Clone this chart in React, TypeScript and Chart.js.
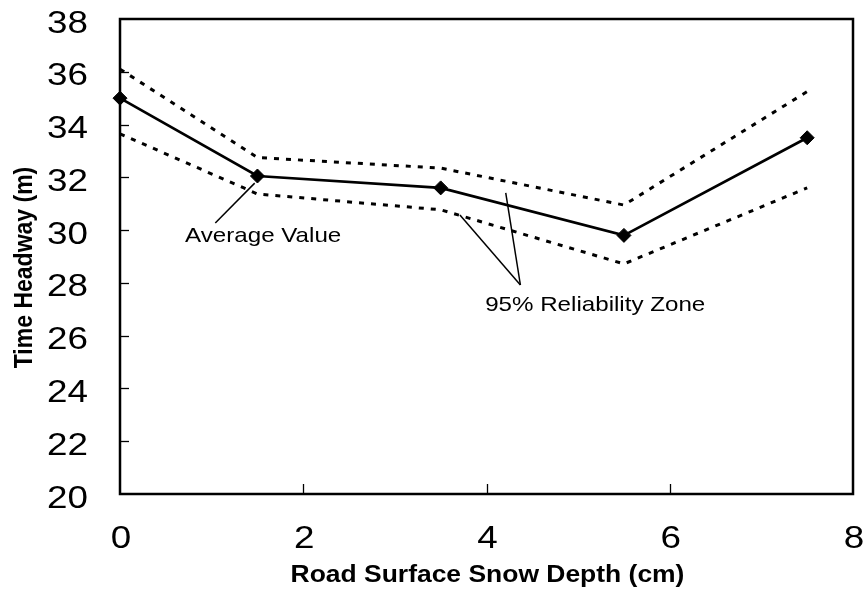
import React, { useEffect, useRef } from "react";
import { Chart, registerables } from "chart.js";

Chart.register(...registerables);

// ---- data ----
const snowDepth = [0, 1.5, 3.5, 5.5, 7.5];
const averageHeadway = [35.0, 32.05, 31.6, 29.8, 33.5];
const upperBound = [36.1, 32.75, 32.35, 30.95, 35.25];
const lowerBound = [33.65, 31.37, 30.77, 28.72, 31.6];

const xMin = 0;
const xMax = 8;
const xStep = 2;
const yMin = 20;
const yMax = 38;
const yStep = 2;

const xTitle = "Road Surface Snow Depth (cm)";
const yTitle = "Time Headway (m)";
const avgLabel = "Average Value";
const zoneLabel = "95% Reliability Zone";

// annotation anchors in data units [x, y]
const avgLabelAnchor = [0.71, 29.55];
const avgLeader = [
  [1.04, 30.27],
  [1.47, 31.78],
];
const zoneLabelAnchor = [3.985, 26.93];
const zoneLeaders = [
  [
    [4.37, 27.92],
    [3.71, 30.57],
  ],
  [
    [4.37, 27.92],
    [4.21, 31.41],
  ],
];

const FONT = '"Liberation Sans", Arial, Helvetica, sans-serif';
const STRETCH = 1.15;

function toPts(xs: number[], ys: number[]) {
  return xs.map((x, i) => ({ x, y: ys[i] }));
}

const decorPlugin = {
  id: "decor",
  beforeDatasetsDraw(chart: any) {
    const ctx = chart.ctx;
    const ca = chart.chartArea;
    const xs = chart.scales.x;
    const ys = chart.scales.y;
    ctx.save();
    ctx.strokeStyle = "#000";
    ctx.lineWidth = 2.5;
    ctx.strokeRect(ca.left, ca.top, ca.right - ca.left, ca.bottom - ca.top);
    ctx.lineWidth = 1.3;
    ys.ticks.forEach((t: any) => {
      if (t.value === ys.min || t.value === ys.max) return;
      const py = Math.round(ys.getPixelForValue(t.value)) + 0.5;
      ctx.beginPath();
      ctx.moveTo(ca.left, py);
      ctx.lineTo(ca.left + 9, py);
      ctx.stroke();
    });
    xs.ticks.forEach((t: any) => {
      if (t.value === xs.min || t.value === xs.max) return;
      const px = Math.round(xs.getPixelForValue(t.value)) + 0.5;
      ctx.beginPath();
      ctx.moveTo(px, ca.bottom);
      ctx.lineTo(px, ca.bottom - 10);
      ctx.stroke();
    });
    // leader lines
    const P = (p: number[]) => [xs.getPixelForValue(p[0]), ys.getPixelForValue(p[1])];
    ctx.lineWidth = 1.5;
    const seg = (a: number[], b: number[]) => {
      const pa = P(a);
      const pb = P(b);
      ctx.beginPath();
      ctx.moveTo(pa[0], pa[1]);
      ctx.lineTo(pb[0], pb[1]);
      ctx.stroke();
    };
    seg(avgLeader[0], avgLeader[1]);
    zoneLeaders.forEach((l) => seg(l[0], l[1]));
    ctx.restore();
  },
  afterDraw(chart: any) {
    const ctx = chart.ctx;
    const ca = chart.chartArea;
    const xs = chart.scales.x;
    const ys = chart.scales.y;
    ctx.save();
    ctx.fillStyle = "#000";
    const text = (s: string, x: number, y: number, font: string, align: CanvasTextAlign) => {
      ctx.save();
      ctx.translate(x, y);
      ctx.scale(STRETCH, 1);
      ctx.font = font;
      ctx.textAlign = align;
      ctx.textBaseline = "alphabetic";
      ctx.fillText(s, 0, 0);
      ctx.restore();
    };
    const tickFont = `32px ${FONT}`;
    ys.ticks.forEach((t: any) => {
      const py = ys.getPixelForValue(t.value);
      text(String(t.value), ca.left - 32, py + 13.5, tickFont, "right");
    });
    xs.ticks.forEach((t: any) => {
      const px = xs.getPixelForValue(t.value);
      text(String(t.value), px + 1, ca.bottom + 54, tickFont, "center");
    });
    // axis titles
    text(xTitle, (ca.left + ca.right) / 2 + 1, 582, `bold 23px ${FONT}`, "center");
    ctx.save();
    ctx.translate(32, 267.5);
    ctx.rotate(-Math.PI / 2);
    ctx.scale(1, STRETCH);
    ctx.font = `bold 23px ${FONT}`;
    ctx.textAlign = "center";
    ctx.textBaseline = "alphabetic";
    ctx.fillText(yTitle, 0, 0);
    ctx.restore();
    // annotations
    text(
      avgLabel,
      xs.getPixelForValue(avgLabelAnchor[0]),
      ys.getPixelForValue(avgLabelAnchor[1]),
      `21px ${FONT}`,
      "left"
    );
    text(
      zoneLabel,
      xs.getPixelForValue(zoneLabelAnchor[0]),
      ys.getPixelForValue(zoneLabelAnchor[1]),
      `21px ${FONT}`,
      "left"
    );
    ctx.restore();
  },
};

export default function App() {
  const ref = useRef<HTMLCanvasElement | null>(null);
  useEffect(() => {
    if (!ref.current) return;
    const dotted = {
      borderColor: "#000",
      borderWidth: 3,
      borderDash: [5, 7],
      pointRadius: 0,
      fill: false,
      tension: 0,
      clip: false as any,
    };
    const chart = new Chart(ref.current, {
      type: "line",
      data: {
        datasets: [
          { ...dotted, label: "Upper", data: toPts(snowDepth, upperBound) },
          { ...dotted, label: "Lower", data: toPts(snowDepth, lowerBound) },
          {
            label: "Average",
            data: toPts(snowDepth, averageHeadway),
            borderColor: "#000",
            backgroundColor: "#000",
            borderWidth: 2.7,
            pointStyle: "rectRot",
            pointRadius: 7,
            pointBorderWidth: 1,
            pointBackgroundColor: "#000",
            pointBorderColor: "#000",
            tension: 0,
            fill: false,
            clip: false as any,
          },
        ],
      },
      options: {
        animation: false,
        responsive: true,
        maintainAspectRatio: false,
        layout: { padding: { top: 19, right: 14, left: 0, bottom: 0 } },
        plugins: { legend: { display: false }, tooltip: { enabled: false } },
        scales: {
          x: {
            type: "linear",
            min: xMin,
            max: xMax,
            ticks: { stepSize: xStep, display: false },
            grid: { display: false },
            border: { display: false },
            afterFit: (s: any) => {
              s.height = 98;
            },
          },
          y: {
            type: "linear",
            min: yMin,
            max: yMax,
            ticks: { stepSize: yStep, display: false },
            grid: { display: false },
            border: { display: false },
            afterFit: (s: any) => {
              s.width = 120;
            },
          },
        },
      },
      plugins: [decorPlugin],
    });
    return () => chart.destroy();
  }, []);
  return (
    <div style={{ position: "fixed", left: 0, top: 0, width: 867, height: 592, background: "#fff" }}>
      <canvas ref={ref} />
    </div>
  );
}
